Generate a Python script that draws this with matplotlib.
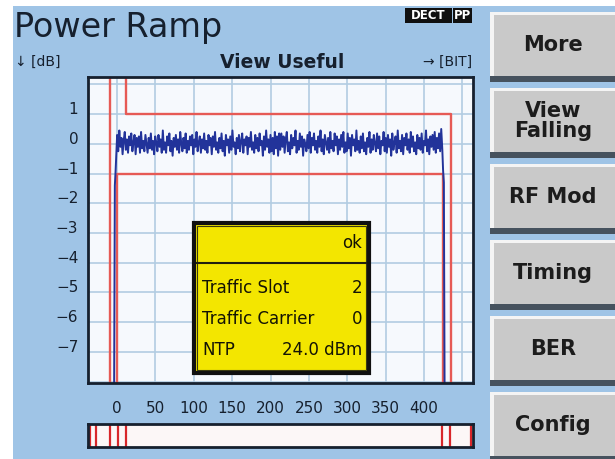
import numpy as np
import matplotlib.pyplot as plt
from matplotlib.patches import Rectangle

# power ramp trace (dB), bits 0..424 on the useful part
noise_a = [
    0.30, -0.25, 0.45, -0.10, 0.20, -0.35, 0.10, 0.40, -0.20, 0.15,
    -0.30, 0.25, -0.05, 0.35, -0.25, 0.05, 0.30, -0.35, 0.20, -0.10,
    0.25, -0.30, 0.40, -0.15, 0.10, -0.25, 0.30, 0.00, -0.30, 0.20,
    -0.15, 0.35, -0.20, 0.10, -0.35, 0.25, 0.05, -0.25, 0.30, -0.10,
    0.15, -0.30, 0.45, -0.20, 0.05, -0.30, 0.25, -0.05, 0.35, -0.25,
    0.10, -0.40, 0.20, -0.10, 0.30, -0.20, 0.15, -0.30, 0.40, 0.00,
    -0.25, 0.20, -0.15, 0.35, -0.30, 0.10, -0.20, 0.25, -0.05, 0.30,
    -0.35, 0.15, -0.10, 0.40, -0.25, 0.05, 0.25, -0.30, 0.15, -0.15,
    0.35, -0.20, 0.10, -0.30, 0.30, -0.05, 0.20, -0.35, 0.25, -0.10,
    0.40, -0.20, 0.05, -0.30, 0.20, -0.15, 0.35, -0.25, 0.10, -0.40,
    0.30, -0.05, 0.15, -0.30, 0.25, -0.20, 0.45, -0.10, 0.05, -0.35,
    0.20, -0.15, 0.30, -0.25, 0.10, 0.35, -0.30, 0.15, -0.05, 0.25,
    -0.35, 0.20, -0.10, 0.40, -0.20, 0.05, -0.30, 0.30, -0.15, 0.20,
    -0.25, 0.35, -0.05, 0.10, -0.40, 0.25, -0.20, 0.45, -0.10, 0.15,
    -0.30, 0.30, -0.25, 0.20, -0.35, 0.40, -0.15, 0.25, -0.40, 0.35,
]
noise_b = [
    -0.20, 0.35, -0.10, 0.25, -0.30, 0.15, 0.40, -0.25, 0.05, -0.35,
    0.30, -0.15, 0.20, -0.05, 0.45, -0.30, 0.10, -0.20, 0.35, -0.10,
    0.25, -0.40, 0.15, 0.00, -0.25, 0.30, -0.15, 0.40, -0.30, 0.20,
    -0.05, 0.35, -0.20, 0.10, -0.30, 0.25, -0.10, 0.45, -0.25, 0.15,
    -0.35, 0.30, 0.05, -0.20, 0.20, -0.30, 0.40, -0.15, 0.10, -0.25,
    0.35, -0.05, 0.25, -0.35, 0.15, -0.20, 0.30, -0.10, 0.40, -0.30,
    0.05, -0.25, 0.35, -0.15, 0.20, -0.40, 0.30, -0.05, 0.15, -0.25,
    0.45, -0.20, 0.10, -0.30, 0.25, -0.15, 0.35, -0.25, 0.05, -0.35,
    0.20, -0.10, 0.40, -0.30, 0.15, -0.20, 0.30, 0.00, -0.25, 0.35,
    -0.15, 0.25, -0.35, 0.10, -0.05, 0.40, -0.25, 0.20, -0.30, 0.30,
    -0.10, 0.15, -0.40, 0.35, -0.20, 0.05, 0.25, -0.30, 0.45, -0.15,
    0.10, -0.25, 0.30, -0.35, 0.20, -0.05, 0.35, -0.20, 0.15, -0.30,
    0.40, -0.10, 0.25, -0.25, 0.05, -0.35, 0.30, -0.15, 0.20, -0.20,
    0.35, -0.30, 0.10, -0.05, 0.45, -0.25, 0.15, -0.35, 0.25, -0.10,
    0.30, -0.20, 0.40, -0.30, 0.20, -0.15, 0.35, -0.25, 0.50, -0.20,
]
ramp_up_bits = [-4, -3, -2, -1]
ramp_up_db = [-8.6, -1.4, -0.9, -0.3]
ramp_down_bits = [425, 426, 427]
ramp_down_db = [-0.9, -1.3, -8.6]

# limit template (bits, dB)
upper_bits = [-9, -9, 12, 12, 435, 435]
upper_db = [-9, 3, 3, 1, 1, -9]
lower_bits = [0, 0, 424.5, 424.5]
lower_db = [-9, -1, -1, -9]
overview_bits = [-35, -28, -9, 1, 12, 423, 434, 461]

y_ticks = [1, 0, -1, -2, -3, -4, -5, -6, -7]
x_ticks = [0, 50, 100, 150, 200, 250, 300, 350, 400]

buttons = ['More', 'View\nFalling', 'RF Mod', 'Timing', 'BER', 'Config']
info_rows = [('Traffic Slot', '2'), ('Traffic Carrier', '0'), ('NTP', '24.0 dBm')]

W, H = 615, 459
BG = '#9fc4e6'
INK = '#16202e'
RED = '#e65a55'
GRID = '#b2cce2'

fig = plt.figure(figsize=(W / 100, H / 100), dpi=100, facecolor='white')

# background layer in pixel coordinates (y down)
bg = fig.add_axes([0, 0, 1, 1], zorder=0)
bg.set_xlim(0, W)
bg.set_ylim(H, 0)
bg.axis('off')
bg.add_patch(Rectangle((13, 6), W - 13, H - 6, color=BG, lw=0))

for i, name in enumerate(buttons):
    top = 12 + 76 * i
    bg.add_patch(Rectangle((490, top + 2), 130, 68, color='#46525e', lw=0))
    bg.add_patch(Rectangle((490, top), 130, 64, color='#c9c9c9', lw=0))
    bg.add_patch(Rectangle((490, top), 130, 3, color='#f4f4f4', lw=0))
    bg.add_patch(Rectangle((490, top), 4, 64, color='#f4f4f4', lw=0))
    bg.text(553, top + 33, name, ha='center', va='center', fontsize=15,
            fontweight='bold', color='#1c1c1c', linespacing=0.95)

bg.text(14, 37, 'Power Ramp', fontsize=24, color=INK, va='baseline')
bg.text(15, 62, '↓ [dB]', fontsize=10, color=INK, va='center')
bg.text(282, 62, 'View Useful', fontsize=13.5, fontweight='bold', color=INK,
        ha='center', va='center')
bg.text(472, 62, '→ [BIT]', fontsize=10, color=INK, ha='right', va='center')
bg.add_patch(Rectangle((405, 8), 47, 15, color='#101010', lw=0))
bg.add_patch(Rectangle((453, 8), 19, 15, color='#101010', lw=0))
bg.text(428.5, 15.5, 'DECT', fontsize=8.5, fontweight='bold', color='white',
        ha='center', va='center')
bg.text(462.5, 15.5, 'PP', fontsize=8.5, fontweight='bold', color='white',
        ha='center', va='center')

# main chart
ax = fig.add_axes([88 / W, 1 - 383 / H, 385 / W, 306 / H], zorder=1)
ax.set_facecolor('#f6f9fd')
ax.set_xlim(-38, 464)
ax.set_ylim(-8.05, 2.25)
ax.set_xticks(x_ticks + [450])
ax.set_xticklabels([str(v) for v in x_ticks] + [''])
ax.set_yticks(y_ticks + [-8, 2])
ax.set_yticklabels([str(v).replace('-', '\u2212') for v in y_ticks] + ['', ''])
ax.grid(True, color=GRID, lw=1.2)
ax.set_axisbelow(True)
ax.tick_params(length=0, labelsize=11, labelcolor=INK)
ax.tick_params(axis='x', pad=13)
ax.tick_params(axis='y', pad=7)
for lab in ax.get_yticklabels():
    lab.set_va('baseline')
for s in ax.spines.values():
    s.set_color(INK)
    s.set_linewidth(2)

ax.plot(upper_bits, upper_db, color=RED, lw=1.7)
ax.plot(lower_bits, lower_db, color=RED, lw=1.7)

noise = noise_a + noise_b
bits = np.linspace(0, 424, len(noise))
ax.plot(ramp_up_bits + list(bits) + ramp_down_bits,
        ramp_up_db + noise + ramp_down_db, color='#22339a', lw=1.4)

# overview bar
ov = fig.add_axes([88 / W, 1 - 447 / H, 385 / W, 23 / H], zorder=1)
ov.set_facecolor('#fcf7f7')
ov.set_xlim(-38, 464)
ov.set_ylim(0, 1)
ov.set_xticks([])
ov.set_yticks([])
for s in ov.spines.values():
    s.set_color(INK)
    s.set_linewidth(2)
for b in overview_bits:
    ov.axvline(b, color='#d8262a', lw=1.6)

# status box
fg = fig.add_axes([0, 0, 1, 1], zorder=5)
fg.set_xlim(0, W)
fg.set_ylim(H, 0)
fg.axis('off')
fg.add_patch(Rectangle((194, 223), 175, 150, facecolor='#f3e600',
                       edgecolor='#101010', lw=3))
fg.add_patch(Rectangle((197, 226), 169, 144, facecolor='none',
                       edgecolor='#3a3a10', lw=0.8))
fg.plot([197, 366], [263, 263], color='#202010', lw=1.5)
fg.text(362, 243, 'ok', fontsize=12, color='#141405', ha='right', va='center')
for i, (name, val) in enumerate(info_rows):
    y = 288 + 31 * i
    fg.text(202, y, name, fontsize=12, color='#141405', va='center')
    fg.text(362, y, val, fontsize=12, color='#141405', ha='right', va='center')

fig.savefig('out.png', dpi=100, facecolor=fig.get_facecolor())
